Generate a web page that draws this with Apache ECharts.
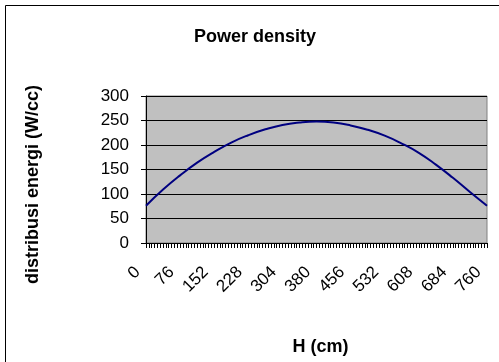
<!DOCTYPE html>
<html>
<head>
<meta charset="utf-8">
<script src="https://cdn.jsdelivr.net/npm/echarts@6/dist/echarts.min.js"></script>
<style>
html, body { margin: 0; padding: 0; background: #fff; }
#main { width: 499px; height: 362px; }
</style>
</head>
<body>
<div id="main"></div>
<script>
// H (cm) positions and power density
var hValues = [0, 38, 76, 114, 152, 190, 228, 266, 304, 342, 380,
               418, 456, 494, 532, 570, 608, 646, 684, 722, 760];
var density = [76, 109, 138, 164, 186, 205, 220, 232, 241, 246, 248,
               246, 240, 231, 219, 203, 184, 160, 133, 104, 76];
var yTicks = [0, 50, 100, 150, 200, 250, 300];

var points = [];
for (var i = 0; i < hValues.length; i++) {
    points.push([hValues[i], density[i]]);
}

var myChart = echarts.init(document.getElementById('main'));
var font = 'Liberation Sans, Arial, sans-serif';

option = {
    animation: false,
    backgroundColor: '#fff',
    title: {
        text: 'Power density',
        left: 250,
        top: 23,
        textAlign: 'center',
        textStyle: {fontFamily: font, fontSize: 18, fontWeight: 'bold', color: '#000'}
    },
    graphic: [{
        type: 'rect',
        shape: {x: 5.5, y: 5.5, width: 520, height: 420},
        style: {fill: 'none', stroke: '#000', lineWidth: 1},
        silent: true
    }],
    grid: {
        left: 146,
        right: 12,
        top: 96,
        bottom: 119,
        show: true,
        backgroundColor: '#c0c0c0',
        borderColor: '#808080',
        borderWidth: 1
    },
    xAxis: {
        type: 'value',
        min: 0,
        max: 760,
        interval: 76,
        name: 'H (cm)',
        nameLocation: 'middle',
        nameGap: 95,
        nameTextStyle: {fontFamily: font, fontSize: 18, fontWeight: 'bold', color: '#000', padding: [0, 0, 0, 8]},
        axisLine: {lineStyle: {color: '#000', width: 1}},
        axisTick: {show: true, length: 5, lineStyle: {color: '#000'}},
        minorTick: {show: true, splitNumber: 12, length: 5, lineStyle: {color: '#000'}},
        splitLine: {show: false},
        axisLabel: {
            rotate: 45,
            margin: 18,
            padding: [0, 12, 0, 0],
            fontFamily: font,
            fontSize: 17,
            color: '#000'
        }
    },
    yAxis: {
        type: 'value',
        min: yTicks[0],
        max: yTicks[yTicks.length - 1],
        interval: 50,
        name: 'distribusi energi (W/cc)',
        nameLocation: 'middle',
        nameRotate: 90,
        nameGap: 104,
        nameTextStyle: {fontFamily: font, fontSize: 18, fontWeight: 'bold', color: '#000', padding: [0, 30, 0, 0]},
        axisLine: {show: true, lineStyle: {color: '#000', width: 1}},
        axisTick: {show: true, length: 5, lineStyle: {color: '#000'}},
        splitLine: {show: true, lineStyle: {color: '#000', width: 1}},
        axisLabel: {
            margin: 17,
            fontFamily: font,
            fontSize: 17,
            color: '#000'
        }
    },
    series: [{
        type: 'line',
        data: points,
        smooth: true,
        showSymbol: false,
        lineStyle: {color: '#000080', width: 2}
    }]
};

myChart.setOption(option);
</script>
</body>
</html>
